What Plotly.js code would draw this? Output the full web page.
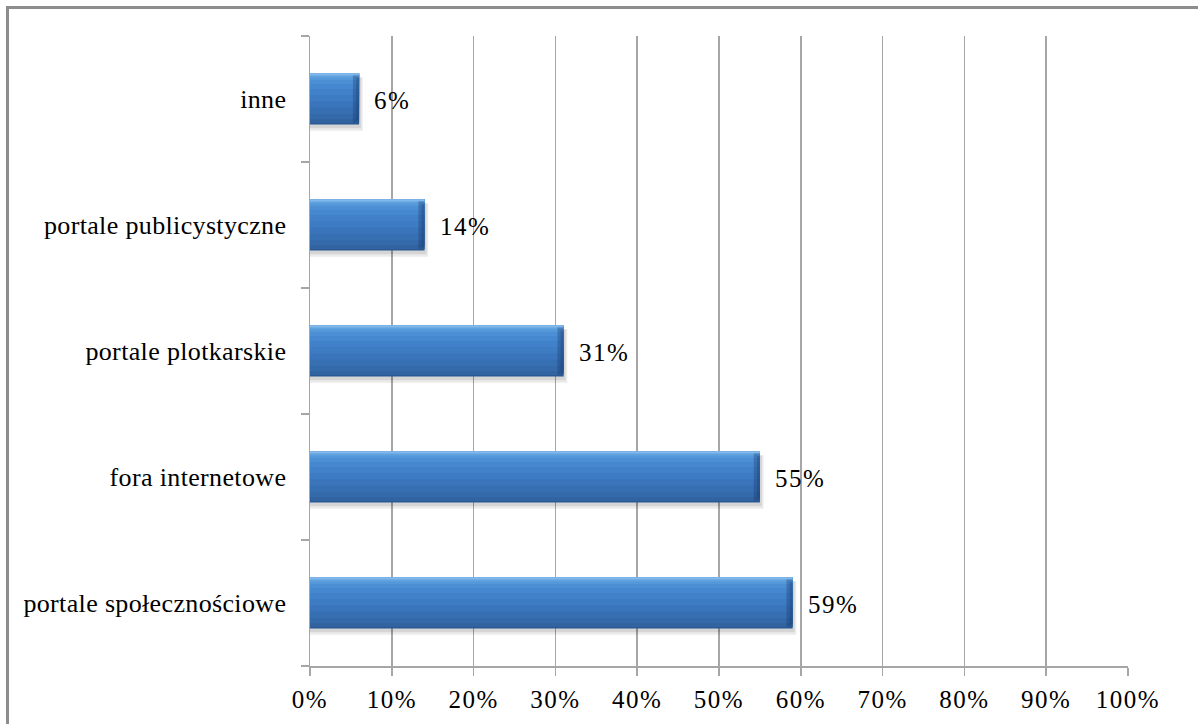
<!DOCTYPE html>
<html>
<head>
<meta charset="utf-8">
<script src="https://cdn.plot.ly/plotly-3.0.1.min.js"></script>
<style>
  html, body { margin: 0; padding: 0; background: #ffffff; }
  #wrap { position: relative; width: 1198px; height: 724px; overflow: hidden; }
  #chart { position: absolute; left: 0; top: 0; width: 1198px; height: 724px; }
  #frame { position: absolute; left: 6px; top: 6px; width: 1200px; height: 730px;
           border-top: 3px solid #8d8d8d; border-left: 3px solid #8d8d8d; pointer-events: none; }
  .xtick text, .annotation-text { letter-spacing: 1.5px; }
  .ytick text { letter-spacing: 0.35px; }
</style>
</head>
<body>
<div id="wrap">
  <div id="chart"></div>
  <div id="frame"></div>
</div>
<script>
// Data (bottom to top)
const categories = ["portale społecznościowe", "fora internetowe", "portale plotkarskie", "portale publicystyczne", "inne"];
const values = [59, 55, 31, 14, 6];
const valueLabels = ["59%", "55%", "31%", "14%", "6%"];
const tickValues = [0, 10, 20, 30, 40, 50, 60, 70, 80, 90, 100];
const tickLabels = ["0%", "10%", "20%", "30%", "40%", "50%", "60%", "70%", "80%", "90%", "100%"];

const serif = "Liberation Serif";
const W = 0.405;       // bar thickness in category units
const H = W / 2;

function layer(color, lo, hi, extra) {
  return Object.assign({
    type: "bar", orientation: "h",
    x: values, y: categories,
    width: hi - lo, offset: lo,
    marker: { color: color, line: { width: 0 } },
    hoverinfo: "skip", showlegend: false
  }, extra || {});
}

// gradient bands (lower edge of band, colour) from bottom to top
const bandStops = [
  [-H, "#2a5894"], [-0.19, "#30639f"], [-0.16, "#3469aa"], [-0.12, "#376fb3"],
  [-0.07, "#3a75bb"], [-0.02, "#3d7bc3"], [0.03, "#4181c9"], [0.08, "#4688cf"],
  [0.12, "#4c8fd5"], [0.15, "#5598da"], [0.17, "#60a1df"], [0.185, "#74b0e7"], [0.195, "#8fc0ee"]
];

const traces = [
  // soft shadow
  layer("rgba(0,0,0,0.08)", -H - 0.05, H - 0.03, { x: values.map(v => v + 0.45) }),
  layer("rgba(0,0,0,0.09)", -H - 0.03, H - 0.03, { x: values.map(v => v + 0.25) })
];
bandStops.forEach(s => traces.push(layer(s[1], s[0], H)));
// right end bevel
traces.push(layer("rgba(20,50,100,0.30)", -H + 0.015, H - 0.015, { x: values.map(() => 0.75), base: values.map(v => v - 0.75) }));
traces.push(layer("rgba(20,50,100,0.25)", -H + 0.035, H - 0.035, { x: values.map(() => 0.35), base: values.map(v => v - 0.35) }));

const annotations = values.map((v, i) => ({
  x: v, y: categories[i], xref: "x", yref: "y",
  text: valueLabels[i], showarrow: false,
  xanchor: "left", yanchor: "middle", xshift: 13, yshift: -1,
  font: { family: serif, size: 25, color: "#000000" }
}));

const layout = {
  width: 1198, height: 724,
  margin: { l: 310, r: 70, t: 36, b: 58 },
  paper_bgcolor: "#ffffff", plot_bgcolor: "#ffffff",
  barmode: "overlay",
  showlegend: false,
  font: { family: serif, color: "#000000" },
  xaxis: {
    range: [0, 100], fixedrange: true,
    tickvals: tickValues, ticktext: tickLabels,
    showgrid: true, gridcolor: "#a6a6a6", gridwidth: 1.5,
    zeroline: false,
    showline: true, linecolor: "#a6a6a6", linewidth: 1.5,
    ticks: "outside", ticklen: 8, tickcolor: "#a6a6a6", tickwidth: 1.5,
    ticklabelstandoff: 2,
    tickfont: { family: serif, size: 25, color: "#000000" }
  },
  yaxis: {
    type: "category", categoryorder: "array", categoryarray: categories,
    range: [-0.5, 4.5], fixedrange: true,
    showgrid: false, zeroline: false,
    showline: true, linecolor: "#a6a6a6", linewidth: 1.5,
    ticks: "outside", tickson: "boundaries", ticklen: 8, tickcolor: "#a6a6a6", tickwidth: 1.5,
    ticklabelstandoff: 17,
    tickfont: { family: serif, size: 26, color: "#000000" }
  },
  annotations: annotations
};

Plotly.newPlot("chart", traces, layout, { displayModeBar: false, staticPlot: true });
</script>
</body>
</html>
